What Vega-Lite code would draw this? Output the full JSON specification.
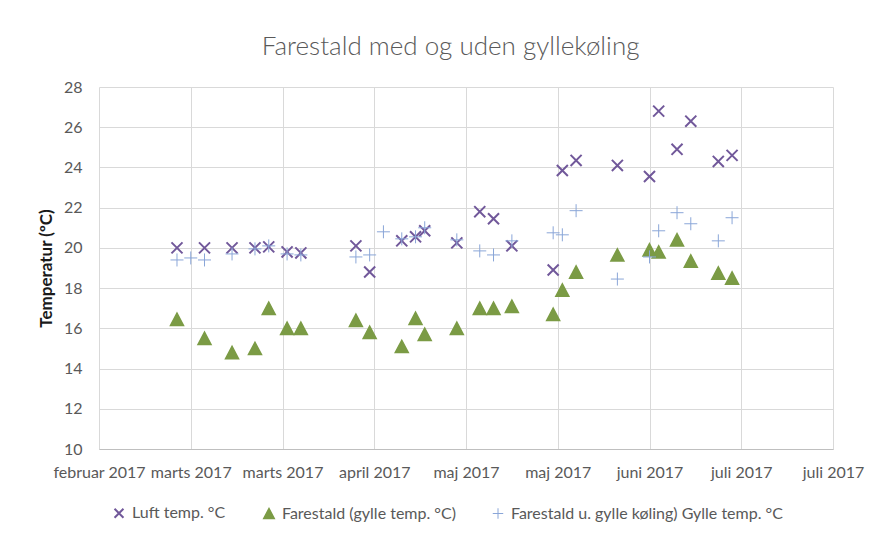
{
  "$schema": "https://vega.github.io/schema/vega-lite/v6.json",
  "autosize": "none",
  "width": 734,
  "height": 362,
  "padding": {"left": 99, "top": 87, "right": 45, "bottom": 85},
  "background": "white",
  "title": {
    "text": "Farestald med og uden gyllekøling",
    "font": "Lato",
    "fontSize": 26,
    "fontWeight": 300,
    "color": "#595959",
    "anchor": "middle",
    "frame": "bounds",
    "offset": 19
  },
  "config": {
    "view": {"stroke": null},
    "font": "Lato",
    "axis": {
      "labelFont": "Lato",
      "labelFontSize": 16,
      "labelColor": "#595959",
      "gridColor": "#d9d9d9",
      "gridWidth": 1,
      "ticks": false,
      "tickSize": 0
    }
  },
  "data": {
    "values": [
      {"date": "2017-03-03", "series": "Luft temp. °C", "temp": 20.0},
      {"date": "2017-03-09", "series": "Luft temp. °C", "temp": 20.0},
      {"date": "2017-03-15", "series": "Luft temp. °C", "temp": 20.0},
      {"date": "2017-03-20", "series": "Luft temp. °C", "temp": 20.0},
      {"date": "2017-03-23", "series": "Luft temp. °C", "temp": 20.05},
      {"date": "2017-03-27", "series": "Luft temp. °C", "temp": 19.8},
      {"date": "2017-03-30", "series": "Luft temp. °C", "temp": 19.75},
      {"date": "2017-04-11", "series": "Luft temp. °C", "temp": 20.1},
      {"date": "2017-04-14", "series": "Luft temp. °C", "temp": 18.8},
      {"date": "2017-04-21", "series": "Luft temp. °C", "temp": 20.35},
      {"date": "2017-04-24", "series": "Luft temp. °C", "temp": 20.55},
      {"date": "2017-04-26", "series": "Luft temp. °C", "temp": 20.85},
      {"date": "2017-05-03", "series": "Luft temp. °C", "temp": 20.25},
      {"date": "2017-05-08", "series": "Luft temp. °C", "temp": 21.8},
      {"date": "2017-05-11", "series": "Luft temp. °C", "temp": 21.45},
      {"date": "2017-05-15", "series": "Luft temp. °C", "temp": 20.1},
      {"date": "2017-05-24", "series": "Luft temp. °C", "temp": 18.9},
      {"date": "2017-05-26", "series": "Luft temp. °C", "temp": 23.85},
      {"date": "2017-05-29", "series": "Luft temp. °C", "temp": 24.35},
      {"date": "2017-06-07", "series": "Luft temp. °C", "temp": 24.1},
      {"date": "2017-06-14", "series": "Luft temp. °C", "temp": 23.55},
      {"date": "2017-06-16", "series": "Luft temp. °C", "temp": 26.8},
      {"date": "2017-06-20", "series": "Luft temp. °C", "temp": 24.9},
      {"date": "2017-06-23", "series": "Luft temp. °C", "temp": 26.3},
      {"date": "2017-06-29", "series": "Luft temp. °C", "temp": 24.3},
      {"date": "2017-07-02", "series": "Luft temp. °C", "temp": 24.6},

      {"date": "2017-03-03", "series": "Farestald (gylle temp. °C)", "temp": 16.45},
      {"date": "2017-03-09", "series": "Farestald (gylle temp. °C)", "temp": 15.5},
      {"date": "2017-03-15", "series": "Farestald (gylle temp. °C)", "temp": 14.8},
      {"date": "2017-03-20", "series": "Farestald (gylle temp. °C)", "temp": 15.0},
      {"date": "2017-03-23", "series": "Farestald (gylle temp. °C)", "temp": 17.0},
      {"date": "2017-03-27", "series": "Farestald (gylle temp. °C)", "temp": 16.0},
      {"date": "2017-03-30", "series": "Farestald (gylle temp. °C)", "temp": 16.0},
      {"date": "2017-04-11", "series": "Farestald (gylle temp. °C)", "temp": 16.4},
      {"date": "2017-04-14", "series": "Farestald (gylle temp. °C)", "temp": 15.8},
      {"date": "2017-04-21", "series": "Farestald (gylle temp. °C)", "temp": 15.1},
      {"date": "2017-04-24", "series": "Farestald (gylle temp. °C)", "temp": 16.5},
      {"date": "2017-04-26", "series": "Farestald (gylle temp. °C)", "temp": 15.7},
      {"date": "2017-05-03", "series": "Farestald (gylle temp. °C)", "temp": 16.0},
      {"date": "2017-05-08", "series": "Farestald (gylle temp. °C)", "temp": 17.0},
      {"date": "2017-05-11", "series": "Farestald (gylle temp. °C)", "temp": 17.0},
      {"date": "2017-05-15", "series": "Farestald (gylle temp. °C)", "temp": 17.1},
      {"date": "2017-05-24", "series": "Farestald (gylle temp. °C)", "temp": 16.7},
      {"date": "2017-05-26", "series": "Farestald (gylle temp. °C)", "temp": 17.9},
      {"date": "2017-05-29", "series": "Farestald (gylle temp. °C)", "temp": 18.8},
      {"date": "2017-06-07", "series": "Farestald (gylle temp. °C)", "temp": 19.65},
      {"date": "2017-06-14", "series": "Farestald (gylle temp. °C)", "temp": 19.9},
      {"date": "2017-06-16", "series": "Farestald (gylle temp. °C)", "temp": 19.8},
      {"date": "2017-06-20", "series": "Farestald (gylle temp. °C)", "temp": 20.4},
      {"date": "2017-06-23", "series": "Farestald (gylle temp. °C)", "temp": 19.35},
      {"date": "2017-06-29", "series": "Farestald (gylle temp. °C)", "temp": 18.75},
      {"date": "2017-07-02", "series": "Farestald (gylle temp. °C)", "temp": 18.5},

      {"date": "2017-03-03", "series": "Farestald u. gylle køling) Gylle temp. °C", "temp": 19.4},
      {"date": "2017-03-06", "series": "Farestald u. gylle køling) Gylle temp. °C", "temp": 19.5},
      {"date": "2017-03-09", "series": "Farestald u. gylle køling) Gylle temp. °C", "temp": 19.4},
      {"date": "2017-03-15", "series": "Farestald u. gylle køling) Gylle temp. °C", "temp": 19.7},
      {"date": "2017-03-20", "series": "Farestald u. gylle køling) Gylle temp. °C", "temp": 19.95},
      {"date": "2017-03-23", "series": "Farestald u. gylle køling) Gylle temp. °C", "temp": 20.1},
      {"date": "2017-03-27", "series": "Farestald u. gylle køling) Gylle temp. °C", "temp": 19.7},
      {"date": "2017-03-30", "series": "Farestald u. gylle køling) Gylle temp. °C", "temp": 19.65},
      {"date": "2017-04-11", "series": "Farestald u. gylle køling) Gylle temp. °C", "temp": 19.55},
      {"date": "2017-04-14", "series": "Farestald u. gylle køling) Gylle temp. °C", "temp": 19.65},
      {"date": "2017-04-17", "series": "Farestald u. gylle køling) Gylle temp. °C", "temp": 20.8},
      {"date": "2017-04-21", "series": "Farestald u. gylle køling) Gylle temp. °C", "temp": 20.45},
      {"date": "2017-04-24", "series": "Farestald u. gylle køling) Gylle temp. °C", "temp": 20.55},
      {"date": "2017-04-26", "series": "Farestald u. gylle køling) Gylle temp. °C", "temp": 21.0},
      {"date": "2017-05-03", "series": "Farestald u. gylle køling) Gylle temp. °C", "temp": 20.4},
      {"date": "2017-05-08", "series": "Farestald u. gylle køling) Gylle temp. °C", "temp": 19.85},
      {"date": "2017-05-11", "series": "Farestald u. gylle køling) Gylle temp. °C", "temp": 19.65},
      {"date": "2017-05-15", "series": "Farestald u. gylle køling) Gylle temp. °C", "temp": 20.35},
      {"date": "2017-05-24", "series": "Farestald u. gylle køling) Gylle temp. °C", "temp": 20.75},
      {"date": "2017-05-26", "series": "Farestald u. gylle køling) Gylle temp. °C", "temp": 20.65},
      {"date": "2017-05-29", "series": "Farestald u. gylle køling) Gylle temp. °C", "temp": 21.85},
      {"date": "2017-06-07", "series": "Farestald u. gylle køling) Gylle temp. °C", "temp": 18.45},
      {"date": "2017-06-14", "series": "Farestald u. gylle køling) Gylle temp. °C", "temp": 19.55},
      {"date": "2017-06-16", "series": "Farestald u. gylle køling) Gylle temp. °C", "temp": 20.85},
      {"date": "2017-06-20", "series": "Farestald u. gylle køling) Gylle temp. °C", "temp": 21.75},
      {"date": "2017-06-23", "series": "Farestald u. gylle køling) Gylle temp. °C", "temp": 21.2},
      {"date": "2017-06-29", "series": "Farestald u. gylle køling) Gylle temp. °C", "temp": 20.35},
      {"date": "2017-07-02", "series": "Farestald u. gylle køling) Gylle temp. °C", "temp": 21.5}
    ]
  },
  "mark": {"type": "point", "filled": false, "opacity": 1, "size": 169},
  "encoding": {
    "x": {
      "field": "date",
      "type": "temporal",
      "scale": {
        "type": "utc",
        "domain": [
          {"year": 2017, "month": 2, "date": 14, "utc": true},
          {"year": 2017, "month": 7, "date": 24, "utc": true}
        ],
        "nice": false
      },
      "axis": {
        "title": null,
        "values": [
          {"year": 2017, "month": 2, "date": 14, "utc": true},
          {"year": 2017, "month": 3, "date": 6, "utc": true},
          {"year": 2017, "month": 3, "date": 26, "utc": true},
          {"year": 2017, "month": 4, "date": 15, "utc": true},
          {"year": 2017, "month": 5, "date": 5, "utc": true},
          {"year": 2017, "month": 5, "date": 25, "utc": true},
          {"year": 2017, "month": 6, "date": 14, "utc": true},
          {"year": 2017, "month": 7, "date": 4, "utc": true},
          {"year": 2017, "month": 7, "date": 24, "utc": true}
        ],
        "labelExpr": "['januar','februar','marts','april','maj','juni','juli','august','september','oktober','november','december'][utcmonth(datum.value)] + ' ' + utcyear(datum.value)",
        "labelOverlap": false,
        "labelBound": false,
        "labelFlush": false,
        "labelPadding": 15,
        "domainColor": "#bfbfbf",
        "domainWidth": 1,
        "grid": true
      }
    },
    "y": {
      "field": "temp",
      "type": "quantitative",
      "scale": {"domain": [10, 28], "nice": false, "zero": false},
      "axis": {
        "values": [10, 12, 14, 16, 18, 20, 22, 24, 26, 28],
        "title": "Temperatur (ºC)",
        "titleFont": "Lato",
        "titleFontSize": 17,
        "titleFontWeight": "bold",
        "titleColor": "#1a1a1a",
        "titlePadding": 8,
        "labelPadding": 17,
        "domain": false,
        "grid": true
      }
    },
    "color": {
      "field": "series",
      "type": "nominal",
      "scale": {
        "domain": ["Luft temp. °C", "Farestald (gylle temp. °C)", "Farestald u. gylle køling) Gylle temp. °C"],
        "range": ["#71589A", "#7B9B45", "#8AA6D8"]
      },
      "legend": {
        "title": null,
        "orient": "none",
        "legendX": 12,
        "legendY": 418,
        "direction": "horizontal",
        "labelFont": "Lato",
        "labelFontSize": 16,
        "labelColor": "#595959",
        "labelLimit": 500,
        "symbolSize": 110,
        "symbolStrokeWidth": 2,
        "columnPadding": 34,
        "labelOffset": 5
      }
    },
    "fill": {
      "field": "series",
      "type": "nominal",
      "scale": {
        "domain": ["Luft temp. °C", "Farestald (gylle temp. °C)", "Farestald u. gylle køling) Gylle temp. °C"],
        "range": ["transparent", "#7B9B45", "transparent"]
      },
      "legend": {
        "title": null,
        "orient": "none",
        "legendX": 12,
        "legendY": 418,
        "direction": "horizontal",
        "labelFont": "Lato",
        "labelFontSize": 16,
        "labelColor": "#595959",
        "labelLimit": 500,
        "symbolSize": 110,
        "symbolStrokeWidth": 2,
        "columnPadding": 34,
        "labelOffset": 5
      }
    },
    "shape": {
      "field": "series",
      "type": "nominal",
      "scale": {
        "domain": ["Luft temp. °C", "Farestald (gylle temp. °C)", "Farestald u. gylle køling) Gylle temp. °C"],
        "range": ["M-0.85,-0.85L0.85,0.85M0.85,-0.85L-0.85,0.85", "M0,-0.95L1,0.95L-1,0.95Z", "M0,-1L0,1M-1,0L1,0"]
      },
      "legend": {
        "title": null,
        "orient": "none",
        "legendX": 12,
        "legendY": 418,
        "direction": "horizontal",
        "labelFont": "Lato",
        "labelFontSize": 16,
        "labelColor": "#595959",
        "labelLimit": 500,
        "symbolSize": 110,
        "symbolStrokeWidth": 2,
        "columnPadding": 34,
        "labelOffset": 5
      }
    },
    "strokeWidth": {
      "field": "series",
      "type": "nominal",
      "scale": {
        "domain": ["Luft temp. °C", "Farestald (gylle temp. °C)", "Farestald u. gylle køling) Gylle temp. °C"],
        "range": [2, 1, 1.6]
      },
      "legend": null
    }
  }
}
